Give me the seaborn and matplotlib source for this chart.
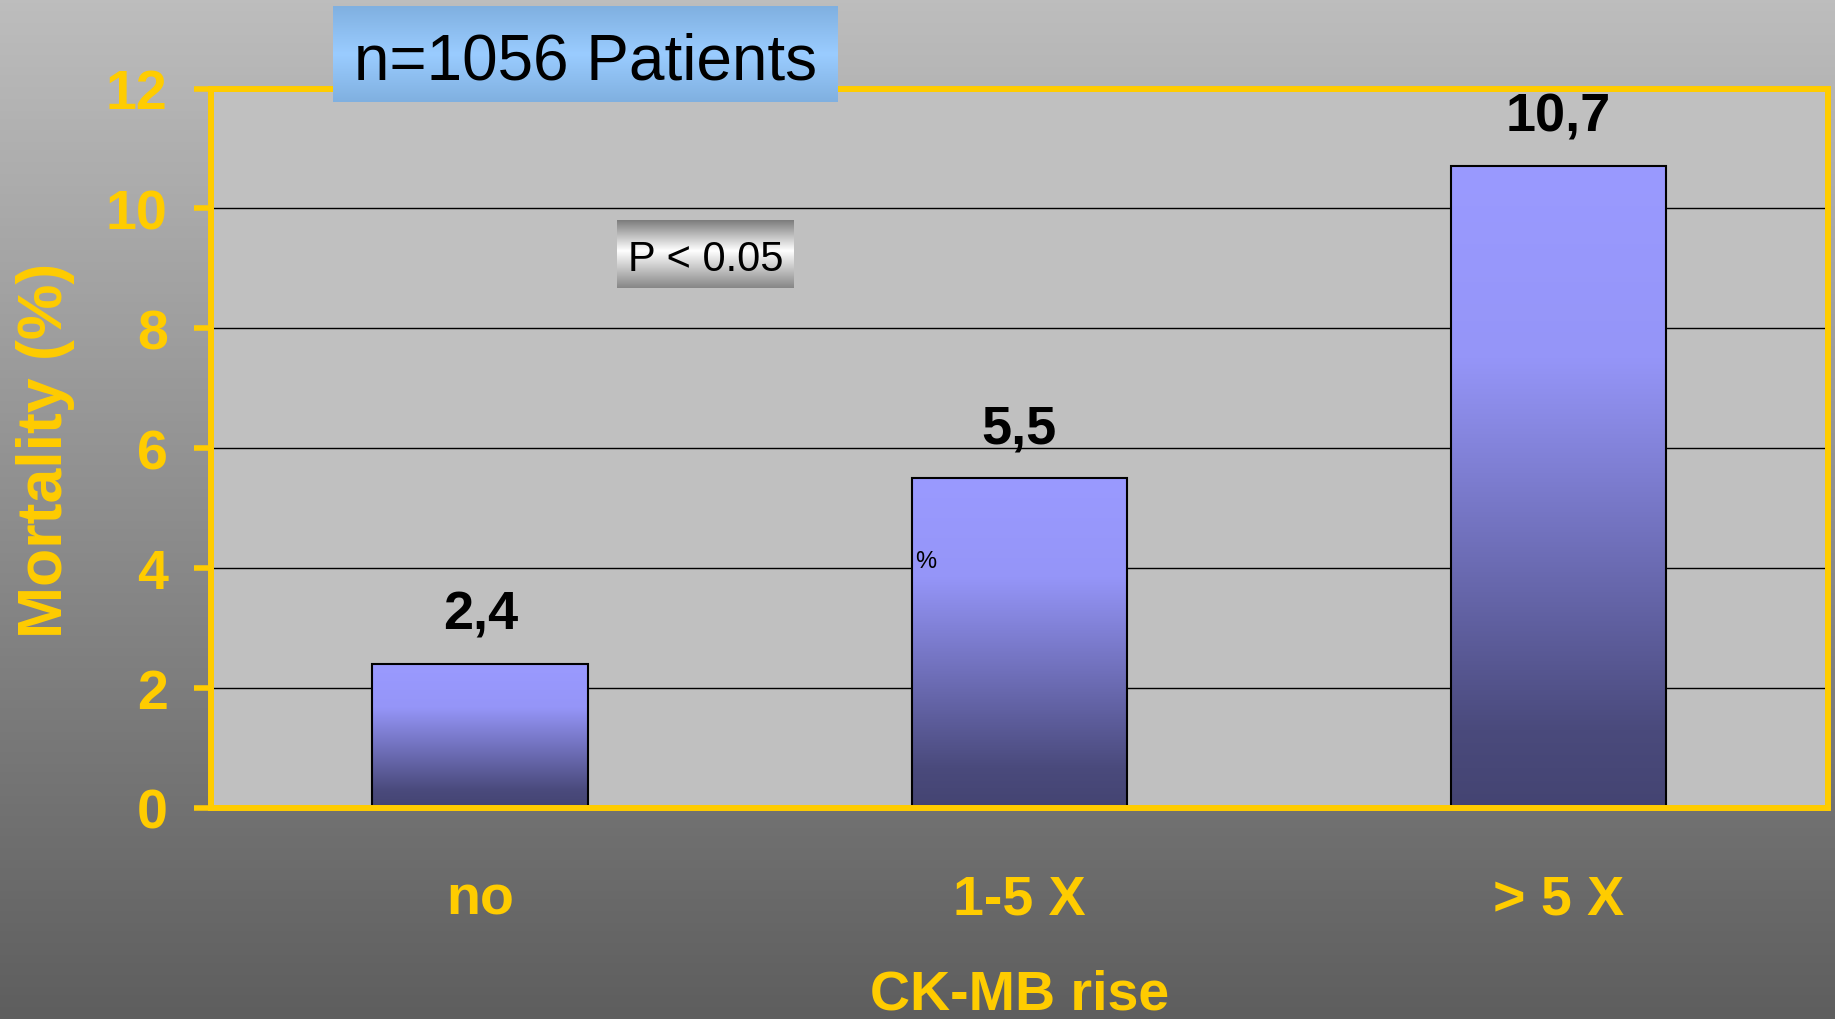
import numpy as np
import pandas as pd
import matplotlib
matplotlib.use("Agg")
import matplotlib.pyplot as plt
from matplotlib.colors import LinearSegmentedColormap
import seaborn as sns

# ---- data ----
categories = ["no", "1-5 X", "> 5 X"]
mortality = [2.4, 5.5, 10.7]
value_labels = ["2,4", "5,5", "10,7"]
yticks = [0, 2, 4, 6, 8, 10, 12]
title_text = "n=1056 Patients"
pvalue_text = "P < 0.05"
xlabel = "CK-MB rise"
ylabel = "Mortality (%)"

sns.set_theme(style="white")
plt.rcParams["font.family"] = ["Liberation Sans", "DejaVu Sans"]

YELLOW = "#FFCC00"
W, H, DPI = 1835, 1020, 100
fig = plt.figure(figsize=(W / DPI, H / DPI), dpi=DPI)

# figure background gradient
bg = fig.add_axes([0, 0, 1, 1])
bg_cmap = LinearSegmentedColormap.from_list("bg", ["#BDBDBD", "#8E8E8E", "#5E5E5E"])
bg.imshow(np.linspace(0, 1, 256).reshape(-1, 1), cmap=bg_cmap, aspect="auto",
          extent=[0, 1, 0, 1], origin="upper")
bg.set_axis_off()

# main axes
ax = fig.add_axes([210.7 / W, 1 - 809 / H, (1828 - 210.7) / W, (809 - 89.5) / H])
ax.set_facecolor("#C0C0C0")

df = pd.DataFrame({"cat": categories, "val": mortality})
sns.barplot(data=df, x="cat", y="val", color="#9999FF", saturation=1,
            edgecolor="black", linewidth=1.5, width=0.4, errorbar=None, ax=ax)

bar_cmap = LinearSegmentedColormap.from_list(
    "bar", [(0, "#9A9AFF"), (0.3, "#9595F8"), (0.88, "#4A4A7C"), (1, "#444472")])
grad = np.linspace(0, 1, 256).reshape(-1, 1)
for p in ax.patches:
    x0, y0, w, h = p.get_x(), p.get_y(), p.get_width(), p.get_height()
    im = ax.imshow(grad, cmap=bar_cmap, aspect="auto", origin="upper",
                   extent=[x0, x0 + w, y0, y0 + h], zorder=p.get_zorder() - 0.01)
    im.set_clip_path(p)
    p.set_facecolor("none")

ax.set_xlim(-0.5, 2.5)
ax.set_ylim(0, 12)
ax.set_yticks(yticks)
ax.set_yticklabels([str(t) for t in yticks], fontweight="bold")
for lbl in ax.get_xticklabels():
    lbl.set_fontweight("bold")

ax.grid(axis="y", color="black", linewidth=1)
ax.grid(axis="x", visible=False)
ax.set_axisbelow(True)

for s in ax.spines.values():
    s.set_color(YELLOW)
    s.set_linewidth(4.3)

ax.tick_params(axis="y", colors=YELLOW, length=12, width=4, pad=19, labelsize=40, left=True)
ax.tick_params(axis="x", length=0, pad=47, labelsize=40, labelcolor=YELLOW)

ax.bar_label(ax.containers[0], labels=value_labels, padding=18,
             fontsize=39, fontweight="bold", color="black")

# small stray "%" text
p2 = ax.patches[1]
ax.text(p2.get_x() + 0.006, 4.02, "%", fontsize=17, color="black",
        ha="left", va="baseline")

ax.set_xlabel(xlabel, fontsize=40, fontweight="bold", color=YELLOW)
ax.xaxis.set_label_coords(0.5, -(1010 - 809) / 720)
ax.xaxis.label.set_va("baseline")
ax.set_ylabel(ylabel, fontsize=45, fontweight="bold", color=YELLOW)
ax.yaxis.set_label_coords((62 - 210.7) / 1617.3, (809 - 450) / 719.5)
ax.yaxis.label.set(va="baseline", ha="center", rotation_mode="anchor")

# title box
tb = fig.add_axes([333 / W, 1 - 103 / H, 505 / W, 96 / H])
tb_cmap = LinearSegmentedColormap.from_list("tb", [(0, "#80B0E0"), (0.5, "#9ACCFF"), (1, "#80B0E0")])
tb.imshow(grad, cmap=tb_cmap, aspect="auto", extent=[0, 1, 0, 1], origin="upper")
tb.set_axis_off()
tb.text(0.5, (103 - 80) / 96, title_text, fontsize=46, color="black",
        ha="center", va="baseline", transform=tb.transAxes)

# p-value box
pb = fig.add_axes([617 / W, 1 - 289 / H, 177 / W, 68 / H])
pb_cmap = LinearSegmentedColormap.from_list("pb", [(0, "#7C7C7C"), (0.45, "#FFFFFF"), (1, "#868686")])
pb.imshow(grad, cmap=pb_cmap, aspect="auto", extent=[0, 1, 0, 1], origin="upper")
pb.set_axis_off()
pb.text(0.5, (289 - 271) / 68, pvalue_text, fontsize=30, color="black",
        ha="center", va="baseline", transform=pb.transAxes)

fig.savefig("out.png", dpi=DPI)
